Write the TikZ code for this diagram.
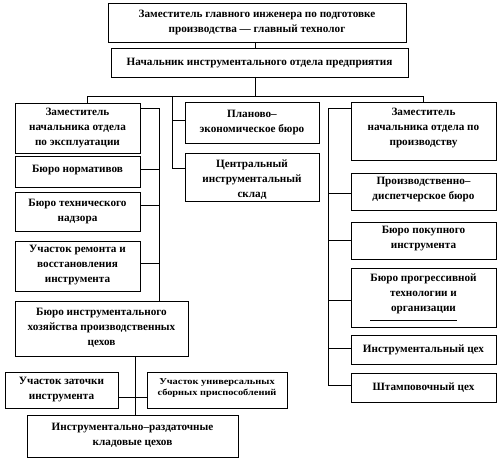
\documentclass[tikz,border=0pt]{standalone}
\usepackage{fontspec}
\setmainfont{Liberation Serif}
\newfontfamily\widefont[FakeStretch=1.15]{Liberation Serif}
\begin{document}
\begin{tikzpicture}[x=1pt,y=-1pt,
  box/.style={draw,line width=0.8pt,inner sep=0pt,outer sep=0pt},
  txt/.style={align=center,inner sep=0pt,font=\fontsize{11.2}{15}\selectfont\bfseries},
  small/.style={align=center,inner sep=0pt,font=\widefont\fontsize{9}{10.5}\selectfont\bfseries},
  link/.style={line width=0.8pt}]
\useasboundingbox (0,0) rectangle (498,460);
% boxes
\node[box,minimum width=298,minimum height=39] (top) at (257,22.5) {};
\node[box,minimum width=297,minimum height=29] (head) at (259.5,62.5) {};
\node[box,minimum width=125,minimum height=50] (zexp) at (77.5,128) {};
\node[box,minimum width=125,minimum height=31] (norm) at (77.5,171.5) {};
\node[box,minimum width=125,minimum height=39] (tech) at (77.5,211.5) {};
\node[box,minimum width=125,minimum height=50] (rem) at (77.5,266) {};
\node[box,minimum width=173,minimum height=55] (hoz) at (101.5,328.5) {};
\node[box,minimum width=134,minimum height=41] (plan) at (252,122.5) {};
\node[box,minimum width=134,minimum height=48] (sklad) at (252,177) {};
\node[box,minimum width=145,minimum height=58] (zpro) at (423.5,131) {};
\node[box,minimum width=145,minimum height=37] (disp) at (423.5,191.5) {};
\node[box,minimum width=145,minimum height=37] (pok) at (423.5,240.5) {};
\node[box,minimum width=145,minimum height=59] (prog) at (423.5,297.5) {};
\node[box,minimum width=145,minimum height=29] (itsekh) at (423.5,349.5) {};
\node[box,minimum width=145,minimum height=29] (shtamp) at (423.5,387.5) {};
\node[box,minimum width=113,minimum height=36] (zat) at (61.5,390) {};
\node[box,minimum width=140,minimum height=36] (usp) at (217,390) {};
\node[box,minimum width=211,minimum height=42] (klad) at (132.5,436) {};
% texts
\node[txt] (ttop) at (257,22) {Заместитель главного инженера по подготовке\\производства — главный технолог};
\node[txt] (thead) at (259.5,63) {Начальник инструментального отдела предприятия};
\node[txt] (tzexp) at (77.5,128) {Заместитель\\начальника отдела\\по эксплуатации};
\node[txt] (tnorm) at (77.5,170) {Бюро нормативов};
\node[txt] (ttech) at (77.5,212) {Бюро технического\\надзора};
\node[txt] (trem) at (77.5,265) {Участок ремонта и\\восстановления\\инструмента};
\node[txt] (thoz) at (101.5,328) {Бюро инструментального\\хозяйства производственных\\цехов};
\node[txt] (tplan) at (252,123) {Планово–\\экономическое бюро};
\node[txt] (tsklad) at (252,180) {Центральный\\инструментальный\\склад};
\node[txt] (tzpro) at (423.5,128) {Заместитель\\начальника отдела по\\производству};
\node[txt] (tdisp) at (423.5,190) {Производственно–\\диспетчерское бюро};
\node[txt] (tpok) at (423.5,239) {Бюро покупного\\инструмента};
\node[txt] (tprog) at (423.5,294) {Бюро прогрессивной\\технологии и\\организации};
\node[txt] (titsekh) at (423.5,350) {Инструментальный цех};
\node[txt] (tshtamp) at (423.5,388) {Штамповочный цех};
\node[txt] (tzat) at (61.5,390) {Участок заточки\\инструмента};
\node[small] (tusp) at (217,388) {Участок универсальных\\сборных приспособлений};
\node[txt] (tklad) at (132.5,435) {Инструментально–раздаточные\\кладовые цехов};
\draw[line width=0.6pt] (370,320) -- (457,320);
% junction coordinates
\coordinate (jm) at (255,96);
\coordinate (jl) at (87,96);
\coordinate (jr) at (423,96);
\coordinate (jc) at (172,96);
\coordinate (lt1) at (159,108);
\coordinate (rt1) at (328,108);
\coordinate (rt2) at (328,385);
% connectors
\draw[link] (top.south -| jm) -- (head.north -| jm);
\draw[link] (head.south -| jm) -- (jm);
\draw[link] (jl) -- (jr);
\draw[link] (jl) -- (zexp.north -| jl);
\draw[link] (jr) -- (zpro.north -| jr);
\draw[link] (jc) -- (172,168);
\draw[link] (172,120) -- (plan.west |- 0,120);
\draw[link] (172,168) -- (sklad.west |- 0,168);
% left trunk
\draw[link] (lt1) -- (hoz.north -| lt1);
\draw[link] (zexp.east |- lt1) -- (lt1);
\draw[link] (norm.east |- 0,169) -- (159,169);
\draw[link] (tech.east |- 0,205) -- (159,205);
\draw[link] (rem.east |- 0,263) -- (159,263);
% right trunk
\draw[link] (rt1) -- (rt2);
\draw[link] (rt1) -- (zpro.west |- rt1);
\draw[link] (328,193) -- (disp.west |- 0,193);
\draw[link] (328,240) -- (pok.west |- 0,240);
\draw[link] (328,300) -- (prog.west |- 0,300);
\draw[link] (328,348) -- (itsekh.west |- 0,348);
\draw[link] (rt2) -- (shtamp.west |- rt2);
% bottom
\draw[link] (hoz.south -| 135,0) -- (klad.north -| 135,0);
\draw[link] (zat.east |- 0,397) -- (usp.west |- 0,397);
\end{tikzpicture}
\end{document}
